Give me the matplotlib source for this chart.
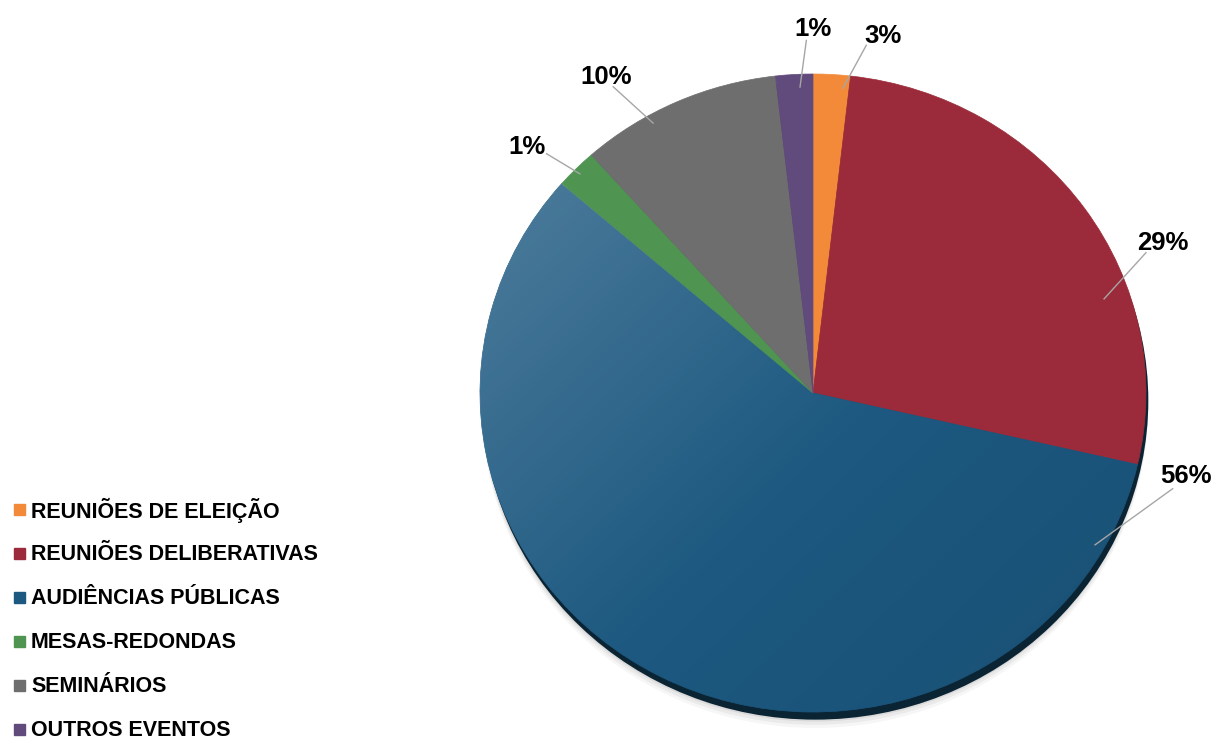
import numpy as np
import matplotlib
matplotlib.use('Agg')
import matplotlib.pyplot as plt
from matplotlib.patches import Ellipse, Rectangle

plt.rcParams['font.family'] = ['Liberation Sans', 'DejaVu Sans']

# data (share of events, clockwise from the top)
categories = ['REUNIÕES DE ELEIÇÃO', 'REUNIÕES DELIBERATIVAS', 'AUDIÊNCIAS PÚBLICAS',
              'MESAS-REDONDAS', 'SEMINÁRIOS', 'OUTROS EVENTOS']
values = [1.8, 26.8, 57.8, 2.0, 9.8, 1.8]
pct_labels = ['3%', '29%', '56%', '1%', '10%', '1%']
colors = ['#F28A3A', '#9B2B3A', '#1C5880', '#4F9450', '#6E6E6E', '#614A7C']

# label layout: text centre, leader start, leader end (pie units)
text_pos = [(0.21, 1.12), (1.05, 0.47), (1.12, -0.26), (-0.86, 0.77), (-0.62, 0.99), (0.00, 1.14)]
lead_start = [(0.16, 1.09), (1.00, 0.44), (1.08, -0.30), (-0.80, 0.75), (-0.60, 0.96), (-0.02, 1.105)]
lead_end = [(0.09, 0.956), (0.874, 0.295), (0.847, -0.476), (-0.70, 0.687), (-0.48, 0.846), (-0.039, 0.959)]

W, H = 1216, 740
cx, cy, rx, ry = 813, 393, 333, 319

fig = plt.figure(figsize=(W / 100, H / 100), dpi=100)
ax = fig.add_axes([0, 0, 1, 1])
ax.axis('off')

# shadow and dark rim under the pie
for k, a in enumerate([0.05, 0.07, 0.10]):
    ax.add_patch(Ellipse((0.006, -0.05 + 0.01 * k), 2.0, 2.0, color='#555555', alpha=a, lw=0, zorder=0))
ax.add_patch(Ellipse((0.007, -0.024), 2.0, 2.0, color='#0B2434', lw=0, zorder=1))

wedges, _ = ax.pie(values, colors=colors, startangle=90, counterclock=False, radius=1,
                   center=(0, 0), wedgeprops=dict(linewidth=0.5))
for w, c in zip(wedges, colors):
    w.set_edgecolor(c)
    w.set_zorder(2)
ax.set_aspect('auto')
ax.set_xlim(-cx / rx, (W - cx) / rx)
ax.set_ylim((cy - H) / ry, cy / ry)

# soft lighting from the upper left on the big slice
n = 400
u, v = np.meshgrid(np.linspace(-1, 1, n), np.linspace(1, -1, n))
s = (v - u) / np.sqrt(2)
shade = np.zeros((n, n, 4))
light = np.clip(s + 0.2, 0, None) * 0.16
dark = np.clip(-s - 0.2, 0, None) * 0.08
shade[..., :3] = (light / np.maximum(light + dark, 1e-9))[..., None]
shade[..., 3] = light + dark
img = ax.imshow(shade, extent=(-1, 1, -1, 1), zorder=3, aspect='auto', interpolation='bilinear')
img.set_clip_path(wedges[2])

for lab, tp, ls, le in zip(pct_labels, text_pos, lead_start, lead_end):
    ax.plot([ls[0], le[0]], [ls[1], le[1]], color='#A6A6A6', lw=1, zorder=4)
    ax.text(tp[0], tp[1], lab, ha='center', va='center', fontsize=18.5, fontweight='bold', zorder=5)

# legend
for i, (name, c) in enumerate(zip(categories, colors)):
    y = 510 + 44 * i
    fig.patches.append(Rectangle((14 / W, 1 - (y + 5) / H), 11 / W, 11 / H,
                                 transform=fig.transFigure, color=c))
    fig.text(31 / W, 1 - y / H, name, ha='left', va='center', fontsize=15.5, fontweight='bold')

fig.savefig('out.png', dpi=100)
